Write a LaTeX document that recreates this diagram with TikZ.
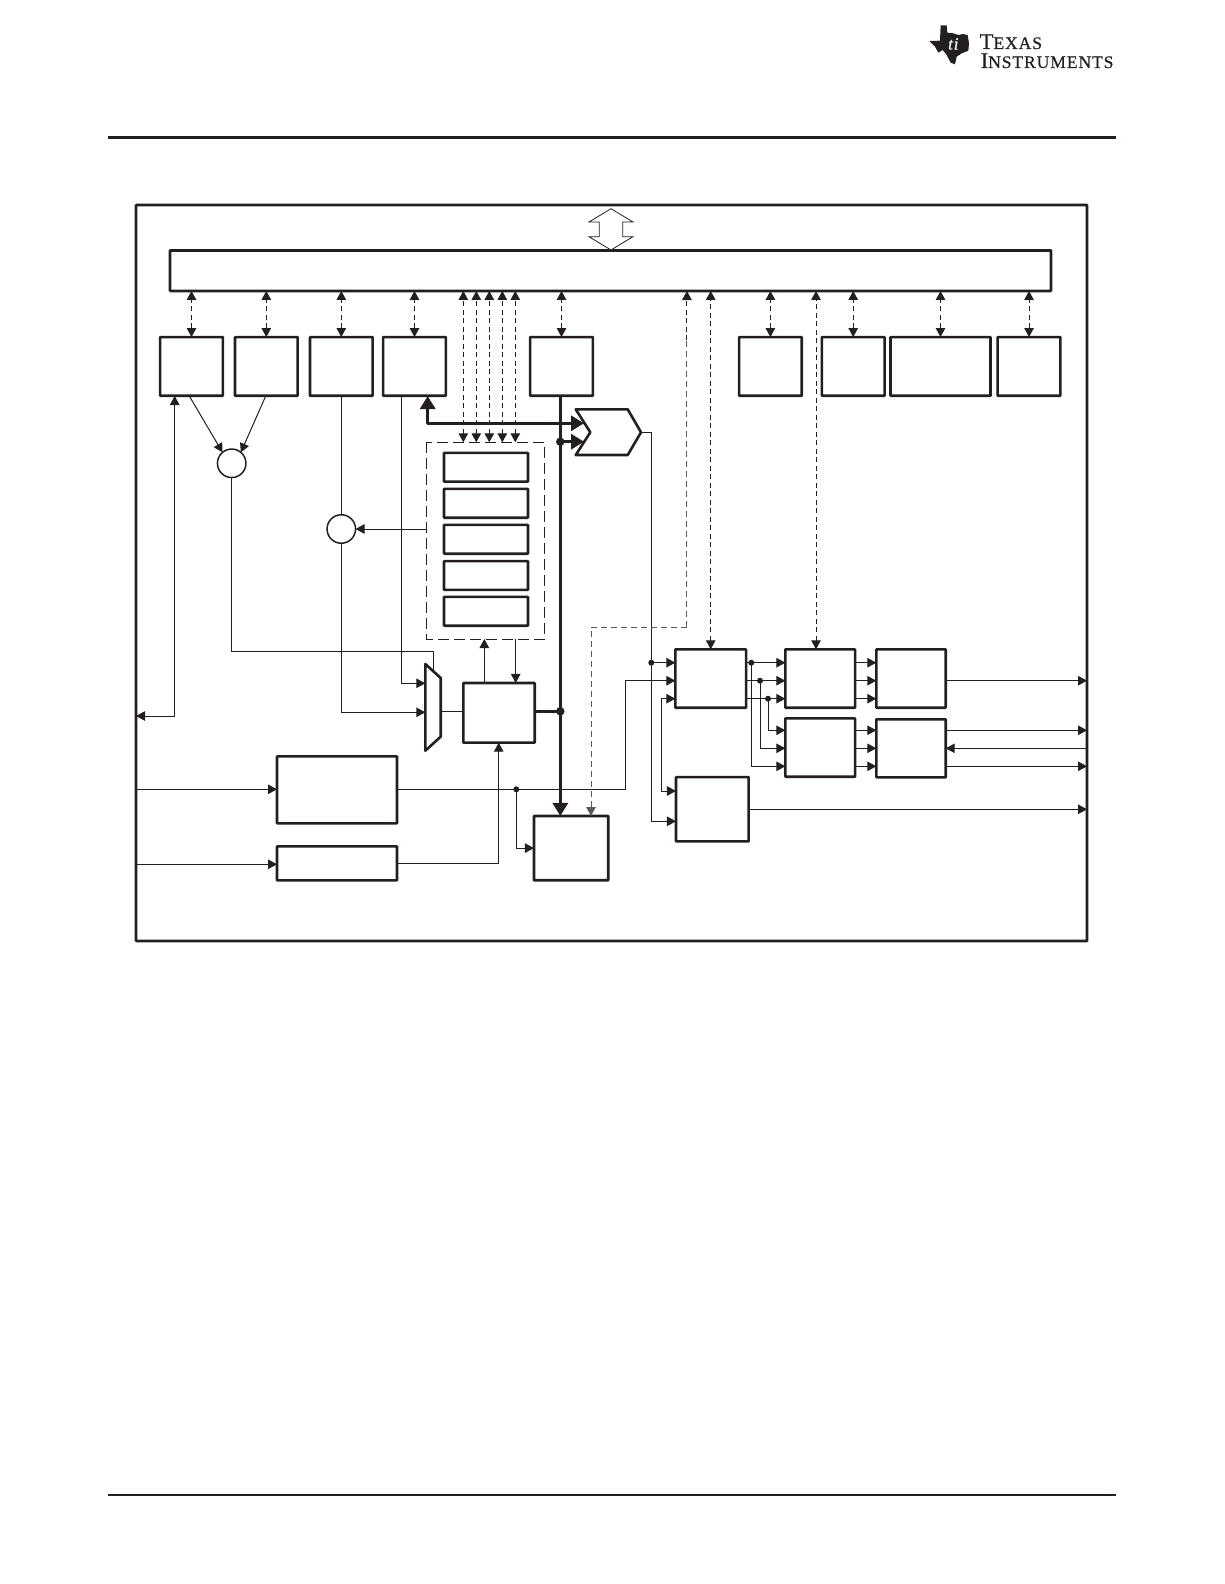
\documentclass[tikz,border=0pt]{standalone}
\usepackage{fontspec}
\usetikzlibrary{arrows.meta,calc}
\newfontfamily\logofont[FakeBold=0.5,LetterSpace=5]{Liberation Serif}
\definecolor{tiblack}{HTML}{231F20}
\tikzset{
  blk/.style={draw,line width=2.6pt,rounded corners=0.6pt,inner sep=0pt,outer sep=0pt},
  wire/.style={line width=1pt,>={Triangle[length=9pt,width=9.5pt]}},
  buswire/.style={line width=3.2pt,>={Triangle[length=13pt,width=15pt]}},
  dashwire/.style={wire,dash pattern=on 5pt off 3.5pt},
  graywire/.style={dashwire,draw=black!65,dash pattern=on 6pt off 4pt},
  dot/.style={circle,fill,inner sep=0pt,minimum size=6pt},
  busdot/.style={circle,fill,inner sep=0pt,minimum size=8.5pt},
  sumr/.style={circle,draw,line width=1.5pt,inner sep=0pt,minimum size=28.5pt,outer sep=0pt}
}
\begin{document}
\begin{tikzpicture}[x=1pt,y=-1pt,color=tiblack]
\useasboundingbox (0,0) rectangle (1224,1584);

% page rules and logo
\draw[line width=2.8pt] (108,137.3) -- (1116,137.3);
\draw[line width=2.8pt] (108,1495) -- (1116,1495);
\begin{scope}[shift={(900,10)},scale=1/3]
\fill (122,46) -- (140,46) -- (142,68) -- (160,70) -- (175,75) -- (188,72) -- (203,75) -- (207,100)
  -- (205,122) -- (185,130) -- (170,140) -- (165,163) -- (152,158) -- (140,135) -- (128,120)
  -- (115,128) -- (105,110) -- (88,93) -- (120,92) -- cycle;
\node[text=white,font=\logofont\itshape\fontsize{17}{17}\selectfont] (logoti) at (160,102) {ti};
\end{scope}
\node[anchor=base west,inner sep=0pt,font=\logofont] (logotop) at (979.5,49)
  {\fontsize{22.5}{22.5}\selectfont T\fontsize{17.6}{17.6}\selectfont EXAS};
\node[anchor=base west,inner sep=0pt,font=\logofont] (logobot) at (980.5,68)
  {\fontsize{22.5}{22.5}\selectfont I\fontsize{17.6}{17.6}\selectfont NSTRUMENTS};

% frame and bus
\node[blk,minimum width=951pt,minimum height=736pt] (frame) at (611.5,573) {};
\node[blk,minimum width=881pt,minimum height=40.5pt] (bus) at (610.5,270.7) {};
\draw[line width=0.8pt,fill=white] (611,208.7) -- (633,222) -- (622.7,222) -- (622.7,236.7) -- (633,236.7)
  -- (611,250) -- (589,236.7) -- (599.3,236.7) -- (599.3,222) -- (589,222) -- cycle;

% top row
\node[blk,minimum width=62.7pt,minimum height=58.7pt] (unita) at (191.5,366.4) {};
\node[blk,minimum width=62.7pt,minimum height=58.7pt] (unitb) at (266.3,366.4) {};
\node[blk,minimum width=62.7pt,minimum height=58.7pt] (unitc) at (341.3,366.4) {};
\node[blk,minimum width=62.7pt,minimum height=58.7pt] (unitd) at (414.5,366.4) {};
\node[blk,minimum width=62.7pt,minimum height=58.7pt] (unite) at (561.5,366.4) {};
\node[blk,minimum width=62.7pt,minimum height=58.7pt] (unitf) at (770.4,366.4) {};
\node[blk,minimum width=62.7pt,minimum height=58.7pt] (unitg) at (853.2,366.4) {};
\node[blk,minimum width=100pt,minimum height=58.7pt] (unith) at (940.5,366.4) {};
\node[blk,minimum width=62.7pt,minimum height=58.7pt] (uniti) at (1029,366.4) {};

\foreach \n in {a,b,c,d,e,f,g,h,i} {
  \draw[dashwire,<->] (unit\n.north) -- (unit\n.north |- bus.south);
}

% registers
\node[sumr] (suma) at (231.7,463.3) {};
\node[sumr] (sumb) at (341.3,529) {};
\coordinate (regnw) at (426.7,442.3);
\coordinate (regse) at (544.7,639);
\draw[line width=0.9pt,dash pattern=on 11pt off 5pt] (regnw) rectangle (regse);
\foreach \n/\y in {1/467.2,2/503.3,3/539.3,4/575.5,5/611.3} {
  \node[blk,minimum width=84pt,minimum height=28.8pt] (reg\n) at (486,\y) {};
}
\foreach \n/\x in {1/463.3,2/476.3,3/489.3,4/502.3,5/515.3} {
  \coordinate (stub\n) at (\x,442.3);
  \draw[dashwire,<->] (stub\n) -- (stub\n |- bus.south);
}

% adder and mux
\coordinate (addtip) at (641,432.3);
\coordinate (addin) at (584,423.3);
\coordinate (addinb) at (584,441.7);
\draw[line width=2.6pt,line join=round,fill=white] (575.7,409.3) -- (627.7,409.3) -- (addtip) -- (627.7,455)
  -- (575.7,455) -- (590.3,432.3) -- cycle;
\draw[line width=2.6pt,line join=round] (425.3,664) -- (440.7,678) -- (440.7,736.7) -- (425.3,750.7) -- cycle;
\coordinate (muxtop) at (433.3,671);
\coordinate (muxa) at (425.3,683.3);
\coordinate (muxb) at (425.3,712.3);
\coordinate (muxout) at (440.7,711.3);

% lower left blocks
\node[blk,minimum width=120pt,minimum height=67pt] (adcs) at (337,789.8) {};
\node[blk,minimum width=120pt,minimum height=34pt] (capt) at (337,863.3) {};
\node[blk,minimum width=71.4pt,minimum height=59.7pt] (ctrl) at (499,712.8) {};
\node[blk,minimum width=74.3pt,minimum height=64.3pt] (memo) at (571.1,848.1) {};

% right blocks
\node[blk,minimum width=70.7pt,minimum height=58.4pt] (gena) at (710.7,678.5) {};
\node[blk,minimum width=69.7pt,minimum height=58.4pt] (genb) at (820.2,678.5) {};
\node[blk,minimum width=69.4pt,minimum height=58.4pt] (genc) at (911,678.5) {};
\node[blk,minimum width=69.7pt,minimum height=58.4pt] (gend) at (820.2,747.5) {};
\node[blk,minimum width=69.4pt,minimum height=58pt] (gene) at (911,748.3) {};
\node[blk,minimum width=72.7pt,minimum height=64.3pt] (genf) at (712.3,809.2) {};

% bold data lines
\coordinate (buscol) at (560.3,396);
\coordinate (dport) at (427.7,396);
\node[busdot] (dota) at (buscol |- addinb) {};
\node[busdot] (dotb) at (buscol |- muxout) {};
\draw[buswire,->] (unite.south -| buscol) -- (memo.north -| buscol);
\draw[buswire,<->,line join=round] (dport) |- (addin);
\draw[buswire,->] (dota.center) -- (addinb);
\draw[buswire] (ctrl.east |- muxout) -- (dotb.center);

% thin lines left
\coordinate (aport) at (174.7,396);
\coordinate (aleft) at (136,716);
\coordinate (coma) at (189.3,396);
\coordinate (comb) at (265.7,396);
\draw[wire,<->] (aport) |- (aleft);
\draw[wire,->] (coma) -- (suma.130);
\draw[wire,->] (comb) -- (suma.50);
\coordinate (dline) at (401.3,396);
\draw[wire] (unitc.south) -- (sumb.north);
\draw[wire,->] (regnw |- sumb.east) -- (sumb.east);
\draw[wire,->] (dline) |- (muxa);
\draw[wire,->] (sumb.south) |- (muxb);
\draw[wire] (suma.south) |- (433.3,651.3) -- (muxtop);
\draw[wire] (muxout) -- (ctrl.west |- muxout);
\coordinate (ctrlup) at (484.3,683);
\coordinate (ctrldn) at (515.7,639);
\draw[wire,->] (ctrlup) -- (ctrlup |- regse);
\draw[wire,->] (ctrldn) -- (ctrldn |- ctrl.north);

% inputs
\coordinate (ina) at (136,789.3);
\coordinate (inb) at (136,864.3);
\coordinate (ctrlin) at (498.7,742.7);
\draw[wire,->] (ina) -- (ina -| adcs.west);
\draw[wire,->] (inb) -- (inb -| capt.west);
\draw[wire,->] (capt.east) -| (ctrlin);
\node[dot] (dotc) at (516.3,789.3) {};
\draw[wire,->] (dotc.center) |- (memo.west);

% rows
\coordinate (rowa) at (0,662.7);
\coordinate (rowb) at (0,680.7);
\coordinate (rowc) at (0,698.7);
\coordinate (rowd) at (0,730.3);
\coordinate (rowe) at (0,748.3);
\coordinate (rowf) at (0,766.3);

\draw[wire,->] (adcs.east |- ina) -- (625.3,789.3) |- (gena.west |- rowb);
\coordinate (addout) at (651.3,432.3);
\node[dot] (dotd) at (651.3,662.7) {};
\draw[wire,->] (addtip) -- (addout) -- (dotd.center) |- (genf.west |- 0,821.3);
\draw[wire,->] (dotd.center) -- (gena.west |- rowa);
\draw[wire,<->] (gena.west |- rowc) -| (661.3,791) -- (genf.west |- 0,791);

\foreach \r in {rowa,rowb,rowc} {
  \draw[wire,->] (gena.east |- \r) -- (genb.west |- \r);
  \draw[wire,->] (genb.east |- \r) -- (genc.west |- \r);
}
\foreach \r in {rowd,rowe,rowf} {
  \draw[wire,->] (gend.east |- \r) -- (gene.west |- \r);
}
\node[dot] (dote) at (751.3,662.7) {};
\node[dot] (dotf) at (760,680.7) {};
\node[dot] (dotg) at (768,698.7) {};
\draw[wire,->] (dote.center) |- (gend.west |- rowf);
\draw[wire,->] (dotf.center) |- (gend.west |- rowe);
\draw[wire,->] (dotg.center) |- (gend.west |- rowd);

% outputs
\draw[wire,->] (genc.east |- rowb) -- (frame.east |- rowb);
\draw[wire,->] (gene.east |- rowd) -- (frame.east |- rowd);
\draw[wire,<-] (gene.east |- rowe) -- (frame.east |- rowe);
\draw[wire,->] (gene.east |- rowf) -- (frame.east |- rowf);
\draw[wire,->] (genf.east |- 0,809.3) -- (frame.east |- 0,809.3);

% long dashed lines
\coordinate (genbport) at (816,649.3);
\draw[dashwire,<->] (gena.north) -- (gena.north |- bus.south);
\draw[dashwire,<->] (genbport) -- (genbport |- bus.south);
\coordinate (memodash) at (591,816);
\coordinate (updash) at (686.9,291);
\draw[graywire,->] (updash |- 0,627.3) -- (591,627.3) -- (memodash);
\draw[graywire] (updash |- 0,627.3) -- (686.9,340);
\draw[dashwire,->] (686.9,340) -- (updash);
\end{tikzpicture}
\end{document}
